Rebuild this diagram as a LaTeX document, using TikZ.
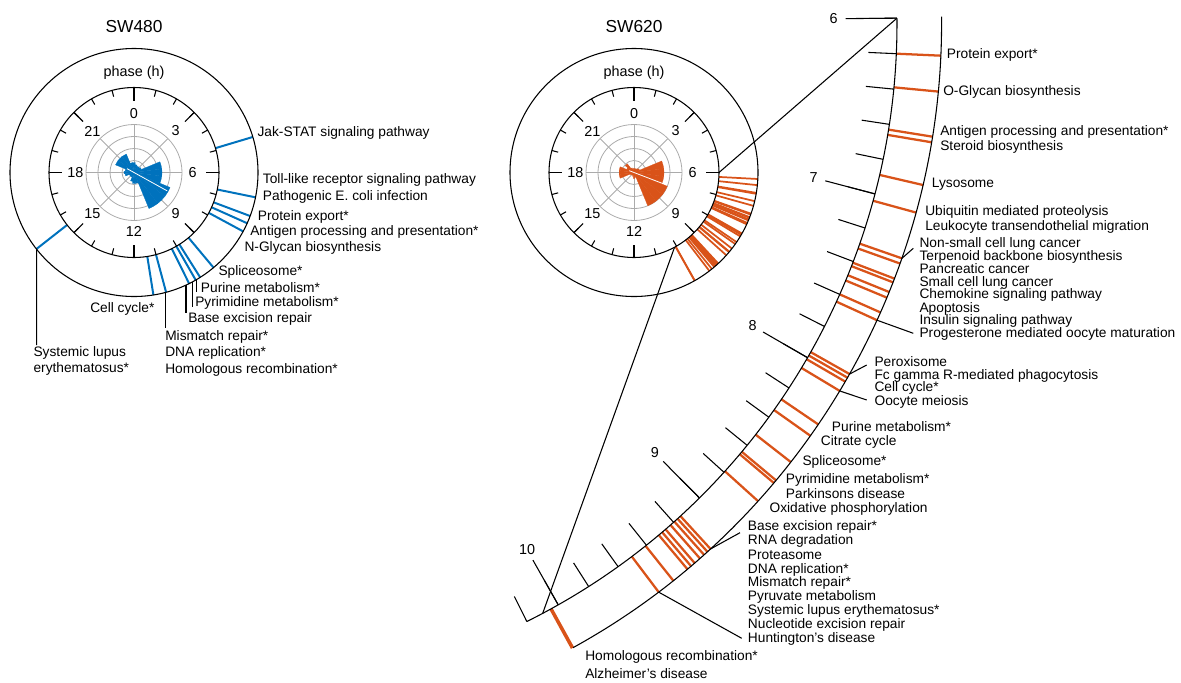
\documentclass[tikz,border=0pt]{standalone}
\usepackage{fontspec}
\setmainfont{Liberation Sans}
\definecolor{mblue}{RGB}{0,114,189}
\definecolor{morange}{RGB}{217,83,25}
\newcommand\swgrid{%
  \foreach \r in {12,24,36,48} \draw[grd] (0,0) circle[radius=\r];
  \foreach \a in {0,45,...,315} \draw[grd] (0,0) -- (\a:48);}
\newcommand\swrose[2]{%
  \foreach \h/\r in {#2}{\fill[#1,draw=#1,line width=0.2pt] (0,0) -- ({15*\h-97.5}:\r) arc[start angle={15*\h-97.5},end angle={15*\h-82.5},radius=\r] -- cycle;}}
\newcommand\swclock[1]{%
  \draw[bk] (0,0) circle[radius=85];
  \draw[bk] (0,0) circle[radius=124];
  \foreach \h in {0,...,23} \draw[bk] ({15*\h-90}:85) -- ({15*\h-90}:78.5);
  \foreach \h in {0,3,...,21} {\draw[bk] ({15*\h-90}:85) -- ({15*\h-90}:72);
    \node[clk] (#1h\h) at ({15*\h-90}:58.7) {\h};}
  \node[clk] (#1ph) at (0,-99.8) {phase (h)};}
\begin{document}
\begin{tikzpicture}[x=0.75pt,y=-0.75pt,
  lab/.style={anchor=west,inner sep=0pt,text height=7.4pt,text depth=2pt,font=\fontsize{10.3}{12}\selectfont},
  clk/.style={inner sep=0pt,font=\fontsize{10.8}{12}\selectfont},
  ttl/.style={inner sep=0pt,font=\fontsize{13}{15}\selectfont},
  bk/.style={draw=black,line width=0.8pt},
  grd/.style={draw=black!33,line width=0.6pt},
  hit/.style={line width=1.5pt},
  mhit/.style={draw=morange,line width=1.7pt}]
\useasboundingbox (0,0) rectangle (1181,682);

% ---------------- SW480 ----------------
\node[ttl] (t480) at (134,26.7) {SW480};
\begin{scope}[shift={(134,172.5)}]
  \swgrid
  \swrose{mblue}{0/10,1/8,2/7,3/7,4/8,5/28,6/28,7/28,8/39,9/39,10/39,11/11,12/11,13/9,14/5,15/5,16/5,17/9,18/10,19/9,20/20,21/20,22/20,23/10}
  \draw[white,line width=0.6pt] ({15*7.93+90}:8) -- ({15*7.93-90}:38);
  \foreach \h in {4.89,6.77,7.37,7.61,7.89,9.34,9.85,10.01,10.24,11.0,11.4,15.46}
    \draw[mblue,hit] ({15*\h-90}:85) -- ({15*\h-90}:124);
  \swclock{a}
  \coordinate (aPu) at (62.2,106.3);
  \coordinate (aPy) at (58.5,109.3);
  \coordinate (aBe) at (52,112.5);
  \coordinate (aMm) at (31.7,119.9);
  \coordinate (aSl) at (-97.3,76.9);
\end{scope}
\node[lab] (a1) at (257.3,133.3) {Jak-STAT signaling pathway};
\node[lab] (a2) at (262.7,180) {Toll-like receptor signaling pathway};
\node[lab] (a3) at (262.7,196.7) {Pathogenic E. coli infection};
\node[lab] (a4) at (257.7,217.3) {Protein export*};
\node[lab] (a5) at (250,232.3) {Antigen processing and presentation*};
\node[lab] (a6) at (244.3,247.7) {N-Glycan biosynthesis};
\node[lab] (a7) at (218.3,272.3) {Spliceosome*};
\node[lab] (a8) at (200.7,289) {Purine metabolism*};
\node[lab] (a9) at (195,303.3) {Pyrimidine metabolism*};
\node[lab] (a10) at (188,319) {Base excision repair};
\node[lab] (a11) at (165,336.7) {Mismatch repair*};
\node[lab] (a12) at (165,353.3) {DNA replication*};
\node[lab] (a13) at (165,370) {Homologous recombination*};
\node[lab] (a14) at (90,309.3) {Cell cycle*};
\node[lab] (a15) at (33.3,352.7) {Systemic lupus};
\node[lab] (a16) at (33.3,369.3) {erythematosus*};
\draw[bk] (aPu) -- (196.2,292);
\draw[bk] (aPy) -- (192.5,307);
\draw[bk] (aBe) -- (186,313);
\draw[bk] (aMm) -- (165.7,328);
\draw[bk] (aSl) -- (36.7,345);

% ---------------- SW620 ----------------
\node[ttl] (t620) at (634,26.7) {SW620};
\begin{scope}[shift={(634,172.5)}]
  \swgrid
  \swrose{morange}{0/4,1/4,2/4,3/5,4/6,5/30,6/30,7/30,8/36,9/36,10/36,11/5,12/6,13/4,14/3,15/3,16/4,17/15,18/15,19/15,20/8,21/11,22/5,23/4}
  \draw[white,line width=0.6pt] ({15*7.4+90}:5) -- ({15*7.4-90}:31);
  \foreach \h in {6.20,6.39,6.63,6.66,6.89,7.04,7.293,7.322,7.407,7.428,7.483,7.515,7.60,7.645,7.964,7.986,8.010,8.067,8.277,8.35,8.523,8.647,8.665,8.792,9.148,9.17,9.194,9.223,9.26,9.285,9.31,9.406,9.504,10.043,10.05}
    \draw[morange,line width=1.3pt] ({15*\h-90}:85) -- ({15*\h-90}:124);
  \swclock{b}
  \coordinate (b6) at (0:85);
  \coordinate (b10) at ({15*10.1-90}:85);
\end{scope}

% ---------------- magnified arc ----------------
\begin{scope}[shift={(229.6,24)}]
  \foreach \h in {6.20,6.39,6.63,6.66,6.89,7.04,7.293,7.322,7.407,7.428,7.483,7.515,7.60,7.645,7.964,7.986,8.010,8.067,8.277,8.35,8.523,8.647,8.665,8.792,9.148,9.17,9.194,9.223,9.26,9.285,9.31,9.406,9.504,10.043,10.05}
    \draw[mhit] ({-0.5+15.25*(\h-6)}:667.4) -- ({-0.5+15.25*(\h-6)}:712);
  \draw[bk] (-0.5:667.4) arc[start angle=-0.5,end angle=63.55,radius=667.4];
  \draw[bk] (-0.6:712) arc[start angle=-0.6,end angle=61.16,radius=712];
  \foreach \i in {0,...,21}
    \draw[bk] ({-0.5+3.05*\i}:667.4) -- ({-0.5+3.05*\i}:639.4);
  \foreach \h in {6,...,10} {
    \draw[bk] ({-0.5+15.25*(\h-6)}:667.4) -- ({-0.5+15.25*(\h-6)}:616);
    \node[clk] (m\h) at ({-0.5+15.25*(\h-6)}:604) {\h};}
  \coordinate (m6p) at (-0.5:667.4);
  \coordinate (m10p) at ({-0.5+15.25*4.1}:667.4);
  \coordinate (gA1) at ({-0.5+15.25*1.293}:712);
  \coordinate (gA2) at ({-0.5+15.25*1.645}:712);
  \coordinate (gB1) at ({-0.5+15.25*1.964}:712);
  \coordinate (gB2) at ({-0.5+15.25*2.067}:712);
  \coordinate (gC1) at ({-0.5+15.25*3.148}:712);
  \coordinate (gC2) at ({-0.5+15.25*3.504}:712);
\end{scope}
\draw[bk] (b6) -- (m6p);
\draw[bk] (b10) -- (m10p);
\draw[bk] (gA1) -- (913.3,248.3);
\draw[bk] (gA2) -- (913.3,333.3);
\draw[bk] (gB1) -- (866.7,365);
\draw[bk] (gB2) -- (866.7,400);
\draw[bk] (gC1) -- (740,532.7);
\draw[bk] (gC2) -- (741.7,638.3);

\node[lab] (c1) at (946.7,55) {Protein export*};
\node[lab] (c2) at (943,91.7) {O-Glycan biosynthesis};
\node[lab] (c3) at (940,132.3) {Antigen processing and presentation*};
\node[lab] (c4) at (940,146.7) {Steroid biosynthesis};
\node[lab] (c5) at (931.7,184) {Lysosome};
\node[lab] (c6) at (925,212.3) {Ubiquitin mediated proteolysis};
\node[lab] (c7) at (925,226.7) {Leukocyte transendothelial migration};
\node[lab] (c8) at (919.3,244) {Non-small cell lung cancer};
\node[lab] (c9) at (919.3,256.7) {Terpenoid backbone biosynthesis};
\node[lab] (c10) at (919.3,270) {Pancreatic cancer};
\node[lab] (c11) at (919.3,282.7) {Small cell lung cancer};
\node[lab] (c12) at (919.3,295.3) {Chemokine signaling pathway};
\node[lab] (c13) at (919.3,308.7) {Apoptosis};
\node[lab] (c14) at (919.3,320.7) {Insulin signaling pathway};
\node[lab] (c15) at (919.3,334) {Progesterone mediated oocyte maturation};
\node[lab] (c16) at (874.3,363.3) {Peroxisome};
\node[lab] (c17) at (874.3,375.7) {Fc gamma R-mediated phagocytosis};
\node[lab] (c18) at (874.3,388.3) {Cell cycle*};
\node[lab] (c19) at (874.3,401.7) {Oocyte meiosis};
\node[lab] (c20) at (831.7,428.3) {Purine metabolism*};
\node[lab] (c21) at (820.7,441.7) {Citrate cycle};
\node[lab] (c22) at (802.3,462.3) {Spliceosome*};
\node[lab] (c23) at (785.7,480) {Pyrimidine metabolism*};
\node[lab] (c24) at (785.7,495) {Parkinsons disease};
\node[lab] (c25) at (769.3,509) {Oxidative phosphorylation};
\node[lab] (c26) at (747.7,527.3) {Base excision repair*};
\node[lab] (c27) at (747.7,541.3) {RNA degradation};
\node[lab] (c28) at (747.7,555.7) {Proteasome};
\node[lab] (c29) at (747.7,570.3) {DNA replication*};
\node[lab] (c30) at (747.7,583.3) {Mismatch repair*};
\node[lab] (c31) at (747.7,597.3) {Pyruvate metabolism};
\node[lab] (c32) at (747.7,611) {Systemic lupus erythematosus*};
\node[lab] (c33) at (747.7,625) {Nucleotide excision repair};
\node[lab] (c34) at (747.7,639) {Huntington's disease};
\node[lab] (c35) at (585,657.3) {Homologous recombination*};
\node[lab] (c36) at (585,675) {Alzheimer's disease};
\end{tikzpicture}
\end{document}
